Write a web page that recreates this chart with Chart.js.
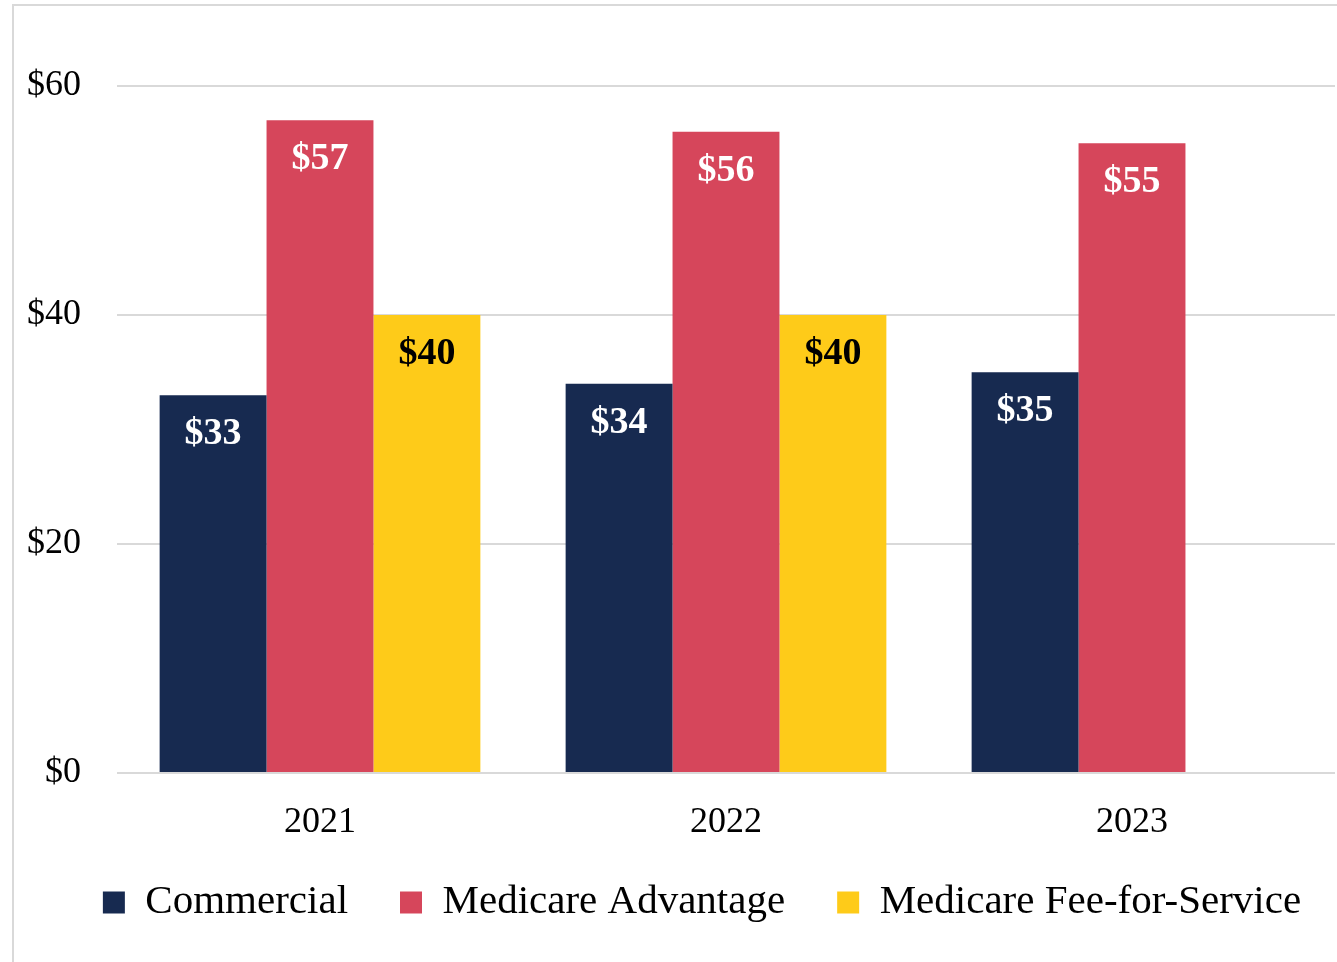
<!DOCTYPE html>
<html>

<head>
  <meta charset="UTF-8" />
  <title>Cost per member by coverage type</title>
  <script src="https://cdn.jsdelivr.net/npm/chart.js@4.4.1/dist/chart.umd.min.js"></script>
  <style>
    body { margin: 0; background: #fff; }
    #frame {
      position: absolute; left: 12px; top: 4px; width: 1400px; height: 1000px;
      border-left: 2px solid #d9d9d9; border-top: 2px solid #d9d9d9;
    }
    #chart { position: absolute; left: 0; top: 0; }
  </style>
</head>

<body>
  <div id="frame"></div>
  <canvas id="chart" width="1337" height="962"></canvas>
  <script>
    const years = ['2021', '2022', '2023'];
    const commercial = [33, 34, 35];
    const medicareAdvantage = [57, 56, 55];
    const medicareFFS = [40, 40, null];
    const yTicks = [0, 20, 40, 60];

    const serif = '"Liberation Serif", "Times New Roman", serif';

    // draws the "$57" style labels just inside the top of each bar
    const barLabels = {
      id: 'barLabels',
      afterDatasetsDraw(chart) {
        const ctx = chart.ctx;
        ctx.save();
        ctx.font = 'bold 38px ' + serif;
        ctx.textAlign = 'center';
        ctx.textBaseline = 'middle';
        chart.data.datasets.forEach((ds, i) => {
          const meta = chart.getDatasetMeta(i);
          meta.data.forEach((bar, j) => {
            const v = ds.data[j];
            if (v == null) return;
            ctx.fillStyle = ds.labelColor;
            ctx.fillText('$' + v, bar.x, bar.y + 39);
          });
        });
        ctx.restore();
      }
    };

    // nudge the legend a bit right, and let the year labels draw past their box
    const tweakLayout = {
      id: 'tweakLayout',
      afterLayout(chart) {
        chart.legend.left += 22;
        chart.legend.right += 22;
        chart.scales.x.bottom = chart.height;
      }
    };

    const ctx = document.getElementById('chart').getContext('2d');
    new Chart(ctx, {
      type: 'bar',
      data: {
        labels: years,
        datasets: [
          { label: 'Commercial', data: commercial, backgroundColor: '#172a50', labelColor: '#ffffff' },
          { label: 'Medicare Advantage', data: medicareAdvantage, backgroundColor: '#d6465b', labelColor: '#ffffff' },
          { label: 'Medicare Fee-for-Service', data: medicareFFS, backgroundColor: '#fecb19', labelColor: '#000000' }
        ]
      },
      options: {
        responsive: false,
        animation: false,
        layout: { padding: { left: 25, right: 2, top: 86, bottom: 29 } },
        datasets: {
          bar: { categoryPercentage: 0.79, barPercentage: 1, borderWidth: 0 }
        },
        scales: {
          x: {
            grid: { display: false },
            border: { display: false },
            afterFit: axis => { axis.height = 57; },
            ticks: {
              color: '#000',
              padding: 24,
              font: { family: serif, size: 36, lineHeight: 1 }
            }
          },
          y: {
            min: 0,
            max: 60,
            afterFit: axis => { axis.width = 92; },
            afterBuildTicks: axis => { axis.ticks = yTicks.map(v => ({ value: v })); },
            grid: { color: '#d9d9d9', lineWidth: 2, drawTicks: false },
            border: { display: false },
            ticks: {
              color: '#000',
              padding: 36,
              font: { family: serif, size: 36 },
              callback: v => '$' + v
            }
          }
        },
        plugins: {
          tooltip: { enabled: false },
          legend: {
            position: 'bottom',
            labels: {
              color: '#000',
              boxWidth: 22,
              boxHeight: 22,
              padding: 52,
              font: { family: serif, size: 41 }
            }
          }
        }
      },
      plugins: [barLabels, tweakLayout]
    });
  </script>
</body>

</html>
